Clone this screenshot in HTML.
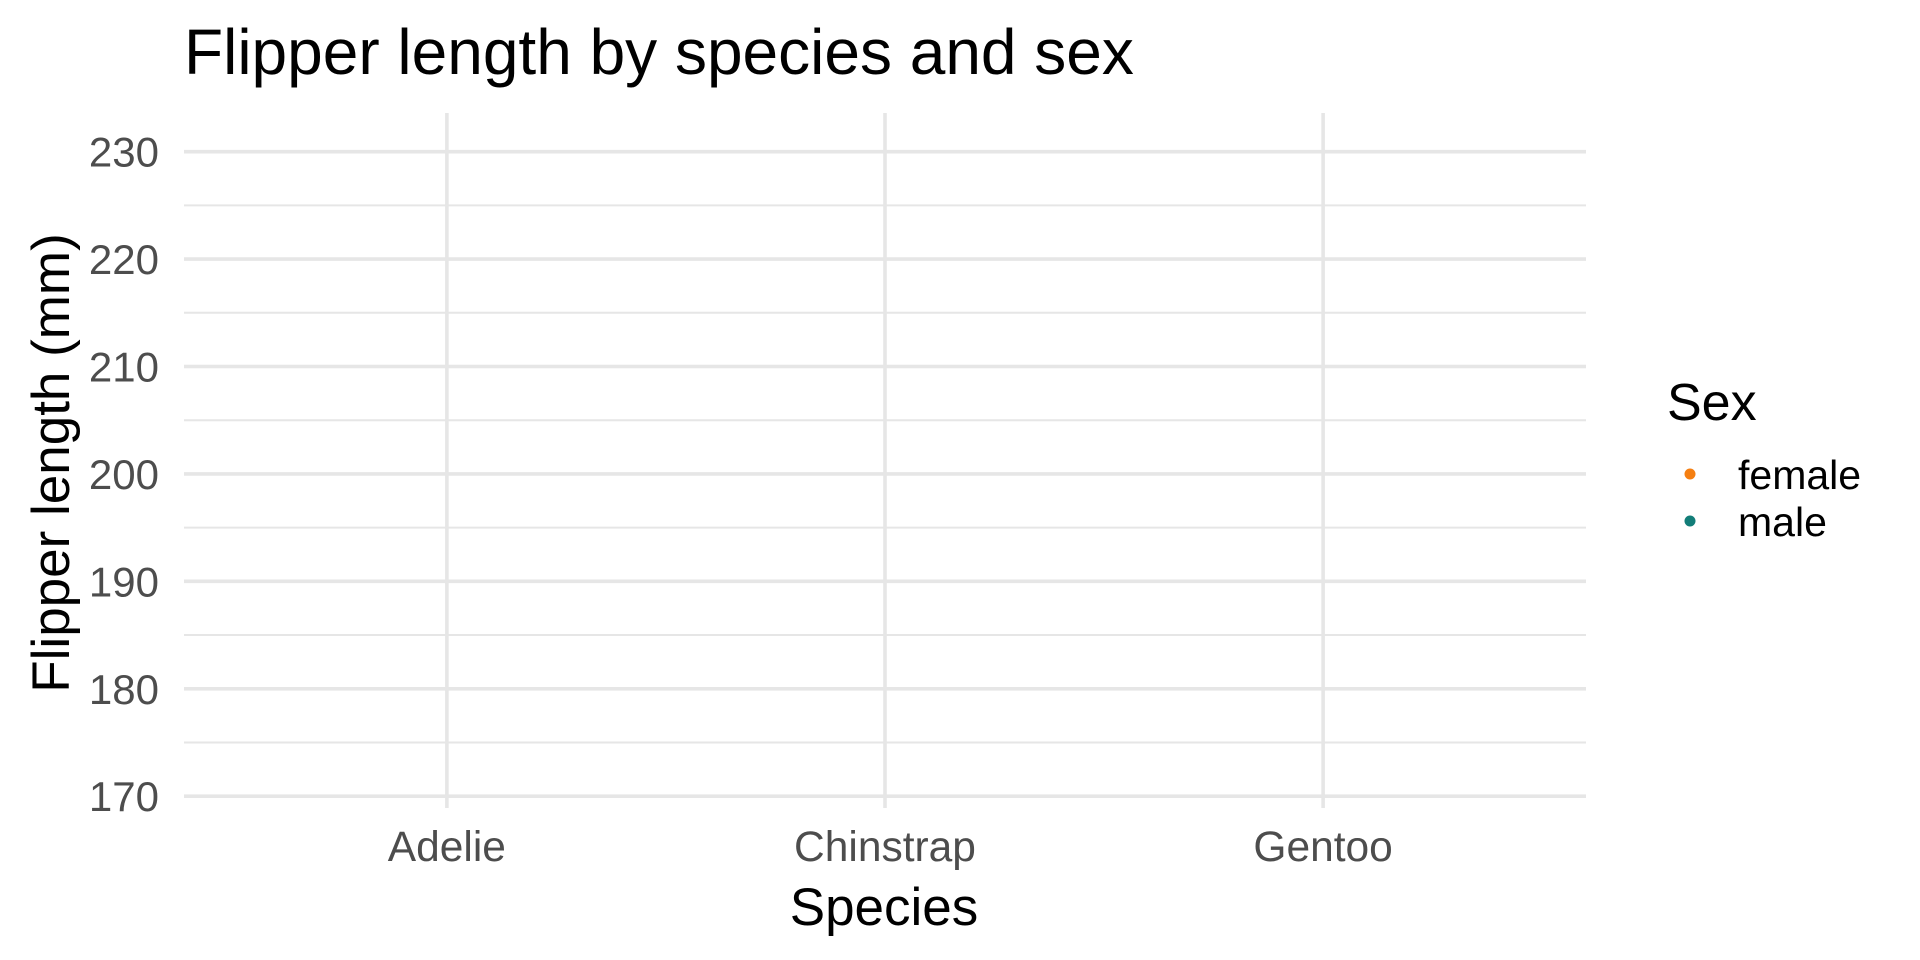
<!DOCTYPE html>
<html><head><meta charset="utf-8"><style>
html,body{margin:0;padding:0;background:#fff;}
svg{display:block;font-family:"Liberation Sans",Arial,sans-serif;}
</style></head><body>
<svg id="chart" width="1920" height="960" viewBox="0 0 1920 960">
<text x="184" y="74" font-size="64" fill="#000">Flipper length by species and sex</text>
<g id="grid"></g>
<g id="marks"></g>
<g id="yaxis"></g>
<g id="xaxis"></g>
<text x="884" y="925" font-size="53" text-anchor="middle" fill="#000">Species</text>
<text transform="translate(69,463) rotate(-90)" font-size="53" text-anchor="middle" fill="#000">Flipper length (mm)</text>
<g id="legend">
<text x="1667" y="420" font-size="52" fill="#000">Sex</text>
</g>
</svg>
<script>
const categories = ["Adelie", "Chinstrap", "Gentoo"];
const yTicks = [170, 180, 190, 200, 210, 220, 230];
const yMinorTicks = [175, 185, 195, 205, 215, 225];
const sexes = ["female", "male"];
const sexColors = ["#f57f12", "#127d78"];
const femaleValues = [];
const maleValues = [];

const NS = "http://www.w3.org/2000/svg";
const L = 184, R = 1586, T = 113, B = 808;
const yMin = 168.9, yMax = 233.6;
function yScale(v){ return B - (v - yMin) / (yMax - yMin) * (B - T); }
function xScale(i){ return L + (i + 0.6) / (categories.length + 0.2) * (R - L); }
function mk(tag, attrs, parent){ const e = document.createElementNS(NS, tag); for (const k in attrs) e.setAttribute(k, attrs[k]); parent.appendChild(e); return e; }

const grid = document.getElementById("grid");
yMinorTicks.forEach(v => {
  const l = mk("line", {x1:L, x2:R, y1:yScale(v), y2:yScale(v), stroke:"#e6e6e6", "stroke-width":2}, grid);
  
  
});
yTicks.forEach(v => {
  const l = mk("line", {x1:L, x2:R, y1:yScale(v), y2:yScale(v), stroke:"#e6e6e6", "stroke-width":3.6}, grid);
  
  
});
categories.forEach((c, i) => {
  const l = mk("line", {x1:xScale(i), x2:xScale(i), y1:T, y2:B, stroke:"#e6e6e6", "stroke-width":3.6}, grid);
  
  
});

const yaxis = document.getElementById("yaxis");
yTicks.forEach(v => {
  const t = mk("text", {x:159, y:yScale(v) + 15, "font-size":42, "text-anchor":"end", fill:"#4d4d4d"}, yaxis);
  t.textContent = v;
  
  
});
const xaxis = document.getElementById("xaxis");
categories.forEach((c, i) => {
  const t = mk("text", {x:xScale(i), y:861, "font-size":42.5, "text-anchor":"middle", fill:"#4d4d4d"}, xaxis);
  t.textContent = c;
  
  
});

const marks = document.getElementById("marks");
[femaleValues, maleValues].forEach((vals, s) => {
  vals.forEach(p => {
    const c = mk("circle", {cx:xScale(categories.indexOf(p[0])), cy:yScale(p[1]), r:5, fill:sexColors[s]}, marks);
    
    
  });
});

const legend = document.getElementById("legend");
sexes.forEach((s, i) => {
  const cy = 474 + i * 47;
  const c = mk("circle", {cx:1690, cy:cy, r:5.5, fill:sexColors[i]}, legend);
  
  
  const t = mk("text", {x:1738, y:cy + 15, "font-size":41, fill:"#000"}, legend);
  t.textContent = s;
  
  
});
</script>
</body></html>
